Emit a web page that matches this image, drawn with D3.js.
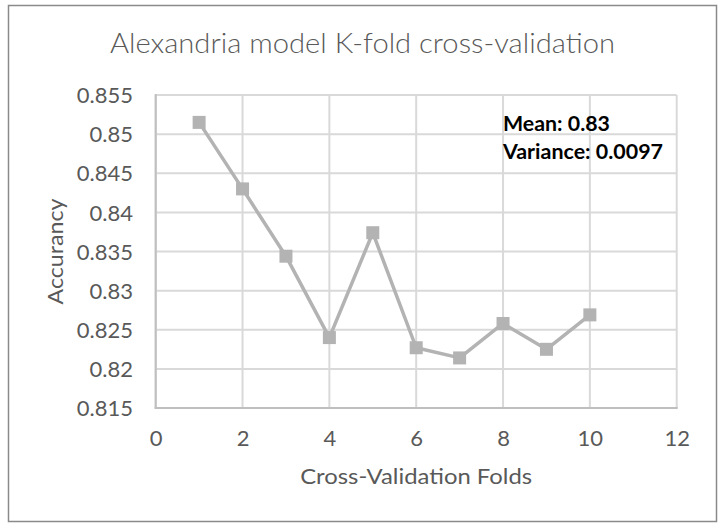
<!DOCTYPE html>
<html>
<head>
<meta charset="utf-8">
<script src="https://cdn.jsdelivr.net/npm/d3@7"></script>
<style>
  body { margin: 0; background: #ffffff; }
  svg text { font-family: Lato, "Open Sans", sans-serif; }
</style>
</head>
<body>
<div id="container"></div>
<script>
// data
var folds = [1, 2, 3, 4, 5, 6, 7, 8, 9, 10];
var accuracy = [0.8515, 0.8430, 0.8344, 0.8240, 0.8374, 0.8227, 0.8214, 0.8258, 0.8225, 0.8269];
var xTicks = [0, 2, 4, 6, 8, 10, 12];
var yTicks = [0.815, 0.82, 0.825, 0.83, 0.835, 0.84, 0.845, 0.85, 0.855];
var titleText = "Alexandria model K-fold cross-validation";
var xTitle = "Cross-Validation Folds";
var yTitle = "Accurancy";
var notes = ["Mean: 0.83", "Variance: 0.0097"];

var width = 726, height = 523;
// plot area (don't call these top/left, window.top is taken)
var plot_left = 155.7, plot_right = 676.7, plot_top = 95, plot_bottom = 408;
var grey_text = "#595959";

var svg = d3.select("div#container")
  .append("svg")
  .attr("width", width)
  .attr("height", height);

svg.append("rect")
  .attr("width", width).attr("height", height)
  .style("fill", "#ffffff");

// chart border
svg.append("rect")
  .attr("x", 8.5).attr("y", 5.5)
  .attr("width", 708).attr("height", 516)
  .style("fill", "none")
  .style("stroke", "#8a8a8a")
  .style("stroke-width", 1.5);

var x = d3.scaleLinear().domain([0, 12]).range([plot_left, plot_right]);
var y = d3.scaleLinear().domain([0.815, 0.855]).range([plot_bottom, plot_top]);

// gridlines
svg.append("g")
  .selectAll("line")
  .data(yTicks)
  .enter().append("line")
  .attr("x1", plot_left).attr("x2", plot_right)
  .attr("y1", function(d) { return y(d); })
  .attr("y2", function(d) { return y(d); })
  .style("stroke", "#d9d9d9")
  .style("stroke-width", 2);

svg.append("g")
  .selectAll("line")
  .data(xTicks)
  .enter().append("line")
  .attr("y1", plot_top).attr("y2", plot_bottom)
  .attr("x1", function(d) { return x(d); })
  .attr("x2", function(d) { return x(d); })
  .style("stroke", "#d9d9d9")
  .style("stroke-width", 2);

// axis lines
svg.append("line")
  .attr("x1", plot_left).attr("x2", plot_left).attr("y1", plot_top - 1).attr("y2", plot_bottom + 1)
  .style("stroke", "#bfbfbf").style("stroke-width", 2);
svg.append("line")
  .attr("x1", plot_left - 1).attr("x2", plot_right + 1).attr("y1", plot_bottom).attr("y2", plot_bottom)
  .style("stroke", "#bfbfbf").style("stroke-width", 2);

// tick labels
var yAxis = d3.axisLeft(y).tickValues(yTicks).tickSize(0).tickPadding(0)
  .tickFormat(function(d) { return String(+d.toFixed(3)); });
var gy = svg.append("g").attr("transform", "translate(" + 133 + ",0)").call(yAxis);
gy.select(".domain").remove();
gy.selectAll("text").style("font-size", "22px").style("fill", grey_text)
  .attr("dy", "0.35em");

var xAxis = d3.axisBottom(x).tickValues(xTicks).tickSize(0).tickPadding(0)
  .tickFormat(d3.format("d"));
var gx = svg.append("g").attr("transform", "translate(0," + 445.5 + ")").call(xAxis);
gx.select(".domain").remove();
gx.selectAll("text").style("font-size", "22px").style("fill", grey_text)
  .attr("dy", 0).attr("y", 0);

// the series
var line = d3.line()
  .x(function(d, i) { return x(folds[i]); })
  .y(function(d) { return y(d); });

svg.append("path")
  .datum(accuracy)
  .attr("d", line)
  .style("fill", "none")
  .style("stroke", "#b3b3b3")
  .style("stroke-width", 3.5)
  .style("stroke-linejoin", "round");

var msize = 13;
svg.append("g")
  .selectAll("rect")
  .data(accuracy)
  .enter().append("rect")
  .attr("x", function(d, i) { return x(folds[i]) - msize / 2; })
  .attr("y", function(d) { return y(d) - msize / 2; })
  .attr("width", msize).attr("height", msize)
  .style("fill", "#b3b3b3");

// titles
svg.append("text")
  .attr("x", 362.5).attr("y", 53)
  .attr("text-anchor", "middle")
  .attr("textLength", 505).attr("lengthAdjust", "spacingAndGlyphs")
  .style("font-size", "27px").style("font-weight", 300)
  .style("fill", grey_text)
  .text(titleText);

svg.append("text")
  .attr("x", (plot_left + plot_right) / 2).attr("y", 484)
  .attr("text-anchor", "middle")
  .attr("textLength", 232).attr("lengthAdjust", "spacingAndGlyphs")
  .style("font-size", "22px")
  .style("fill", grey_text)
  .text(xTitle);

svg.append("text")
  .attr("transform", "translate(63," + (plot_top + plot_bottom) / 2 + ") rotate(-90)")
  .attr("text-anchor", "middle")
  .attr("textLength", 106).attr("lengthAdjust", "spacingAndGlyphs")
  .style("font-size", "22px")
  .style("fill", grey_text)
  .text(yTitle);

// mean / variance note
svg.append("g")
  .selectAll("text")
  .data(notes)
  .enter().append("text")
  .attr("x", 503)
  .attr("y", function(d, i) { return 130.7 + i * 28.6; })
  .attr("textLength", function(d, i) { return i == 0 ? 107 : 160; })
  .attr("lengthAdjust", "spacingAndGlyphs")
  .style("font-size", "21px").style("font-weight", 700)
  .style("fill", "#000000")
  .text(function(d) { return d; });
</script>
</body>
</html>
